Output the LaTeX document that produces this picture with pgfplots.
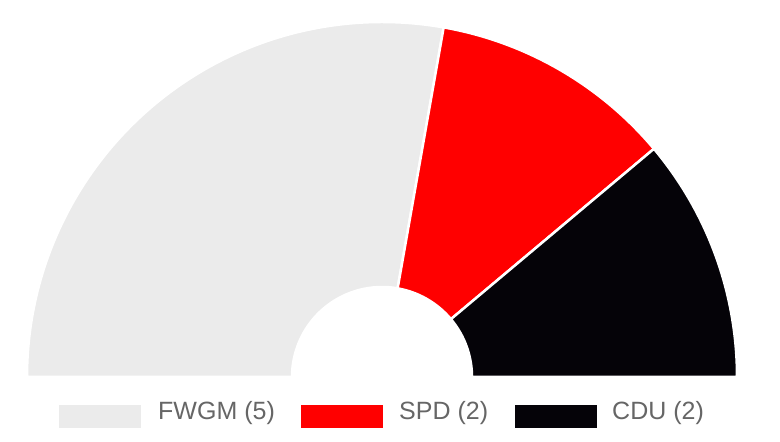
\documentclass[border=0pt]{standalone}
\usepackage{pgfplots}
\usepackage{pgfplotstable}
\pgfplotsset{compat=1.18}
\usepackage{fontspec}
\setmainfont{Liberation Sans}

\definecolor{fwgm}{HTML}{EBEBEB}
\definecolor{spd}{HTML}{FF0000}
\definecolor{cdu}{HTML}{050308}
\definecolor{legtext}{HTML}{666666}

% Sitzverteilung
\pgfplotstableread{
party seats col
FWGM 5 fwgm
SPD 2 spd
CDU 2 cdu
}\seattable

\begin{document}
\begin{tikzpicture}
\pgfplotstablegetrowsof{\seattable}
\pgfmathtruncatemacro\nrows{\pgfplotsretval-1}
\def\total{0}
\pgfplotsforeachungrouped \i in {0,...,\nrows}{%
  \pgfplotstablegetelem{\i}{seats}\of\seattable
  \pgfmathsetmacro\total{\total+\pgfplotsretval}%
}
\begin{axis}[
  scale only axis,
  width=780pt, height=442pt,
  xmin=0, xmax=780, ymin=0, ymax=442,
  hide axis, clip=false,
]
\path (rel axis cs:0,0) rectangle (rel axis cs:1,1);
% Halbkreis-Segmente
\def\startang{180}
\pgfplotsforeachungrouped \i in {0,...,\nrows}{%
  \pgfplotstablegetelem{\i}{seats}\of\seattable
  \pgfmathsetmacro\endang{\startang-180*\pgfplotsretval/\total}%
  \pgfplotstablegetelem{\i}{col}\of\seattable
  \edef\temp{\noexpand\fill[\pgfplotsretval, draw=white, line width=2.5pt]
    ([shift={(\startang:355pt)}]axis cs:382,65)
    arc[start angle=\startang, end angle=\endang, radius=355pt]
    -- ([shift={(\endang:90pt)}]axis cs:382,65)
    arc[start angle=\endang, end angle=\startang, radius=90pt] -- cycle;}%
  \temp
  \global\let\startang\endang
}
% Legende
\fill[fwgm] (axis cs:59,14) rectangle (axis cs:141,37);
\fill[spd] (axis cs:301,14) rectangle (axis cs:383,37);
\fill[cdu] (axis cs:515,14) rectangle (axis cs:597,37);
\node[anchor=base west, inner sep=0, text=legtext, font=\fontsize{25}{30}\selectfont] at (axis cs:158,22) {FWGM (5)};
\node[anchor=base west, inner sep=0, text=legtext, font=\fontsize{25}{30}\selectfont] at (axis cs:399,22) {SPD (2)};
\node[anchor=base west, inner sep=0, text=legtext, font=\fontsize{25}{30}\selectfont] at (axis cs:612,22) {CDU (2)};
\end{axis}
\end{tikzpicture}
\end{document}
